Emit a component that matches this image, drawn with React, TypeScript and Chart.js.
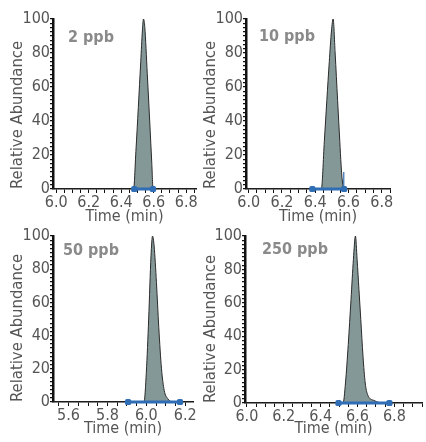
import React, { useEffect, useRef } from "react";
import { Chart, registerables } from "chart.js";

Chart.register(...registerables);

const FONT = '"Liberation Sans Narrow", "DejaVu Sans Condensed", "Roboto Condensed", sans-serif';

// ---- data ----
const panelLabels = ["2 ppb", "10 ppb", "50 ppb", "250 ppb"];

const time2ppb = [5.98, 6.4, 6.476, 6.49, 6.505, 6.52, 6.53, 6.537, 6.545, 6.56, 6.575, 6.588, 6.596, 6.7, 6.86];
const abund2ppb = [0, 0, 0, 22, 48, 75, 93, 100, 95, 68, 40, 15, 0, 0, 0];
const integ2ppb = [6.48, 6.595];

const time10ppb = [5.984, 6.4, 6.437, 6.455, 6.47, 6.485, 6.498, 6.508, 6.52, 6.535, 6.548, 6.556, 6.562, 6.574, 6.7, 6.85];
const abund10ppb = [0, 0, 0, 28, 52, 75, 93, 100, 80, 52, 28, 14, 6, 0, 0, 0];
const integ10ppb = [6.383, 6.574];
const mark10ppb = [6.572, 10];

const time50ppb = [5.52, 5.95, 5.988, 6.0, 6.012, 6.024, 6.032, 6.04, 6.052, 6.064, 6.078, 6.092, 6.11, 6.14, 6.24];
const abund50ppb = [0, 0, 0, 18, 50, 88, 100, 94, 72, 45, 20, 7, 2, 0, 0];
const integ50ppb = [5.906, 6.173];

const time250ppb = [5.99, 6.45, 6.522, 6.535, 6.55, 6.565, 6.578, 6.589, 6.598, 6.608, 6.618, 6.63, 6.642, 6.655, 6.69, 6.74, 6.95];
const abund250ppb = [0, 0, 0, 12, 35, 62, 86, 100, 86, 68, 50, 28, 12, 5, 1.5, 0, 0];
const integ250ppb = [6.497, 6.773];

const xTickLabelsA = [6.0, 6.2, 6.4, 6.6, 6.8];
const xTickLabelsB = [5.6, 5.8, 6.0, 6.2];
const yTickLabels = [0, 20, 40, 60, 80, 100];

const xRange2ppb = [5.98, 6.86];
const xRange10ppb = [5.984, 6.85];
const xRange50ppb = [5.52, 6.24];
const xRange250ppb = [5.99, 6.95];

// ---- layout ----
type Box = { left: number; top: number; width: number; height: number };
type Area = { l: number; t: number; r: number; b: number };
type PanelCfg = {
  label: string;
  time: number[];
  abund: number[];
  integ: number[];
  mark?: number[];
  xRange: number[];
  xLabels: number[];
  box: Box;
  area: Area;
  yTitleX: number;
  labelDx: number;
  labelDy: number;
};

const panels: PanelCfg[] = [
  {
    label: panelLabels[0], time: time2ppb, abund: abund2ppb, integ: integ2ppb,
    xRange: xRange2ppb, xLabels: xTickLabelsA,
    box: { left: 0, top: 0, width: 200, height: 226 },
    area: { l: 53, t: 19, r: 196, b: 189 }, yTitleX: 18, labelDx: 15, labelDy: 23,
  },
  {
    label: panelLabels[1], time: time10ppb, abund: abund10ppb, integ: integ10ppb, mark: mark10ppb,
    xRange: xRange10ppb, xLabels: xTickLabelsA,
    box: { left: 192, top: 0, width: 234, height: 226 },
    area: { l: 246, t: 19, r: 390, b: 189 }, yTitleX: 211, labelDx: 13, labelDy: 22,
  },
  {
    label: panelLabels[2], time: time50ppb, abund: abund50ppb, integ: integ50ppb,
    xRange: xRange50ppb, xLabels: xTickLabelsB,
    box: { left: 0, top: 221, width: 200, height: 217 },
    area: { l: 53, t: 236, r: 193, b: 402 }, yTitleX: 18, labelDx: 10, labelDy: 19,
  },
  {
    label: panelLabels[3], time: time250ppb, abund: abund250ppb, integ: integ250ppb,
    xRange: xRange250ppb, xLabels: xTickLabelsA,
    box: { left: 192, top: 221, width: 234, height: 217 },
    area: { l: 245, t: 236, r: 426, b: 403 }, yTitleX: 211, labelDx: 17, labelDy: 18,
  },
];

const TICK_FONT = 16;
const TITLE_FONT = 16;
const YTITLE_FONT = 16.5;
const TEXT_COLOR = "#555555";
const AXIS_COLOR = "#111111";
const FILL_COLOR = "#849898";
const EDGE_COLOR = "#2a2a2a";
const BLUE = "#2f6db5";

function makeTicks(min: number, max: number, step: number) {
  const out: { value: number }[] = [];
  const start = Math.ceil((min - 1e-9) / step) * step;
  for (let v = start; v <= max + 1e-9; v += step) out.push({ value: +v.toFixed(4) });
  return out;
}

function PanelChart({ cfg }: { cfg: PanelCfg }) {
  const ref = useRef<HTMLCanvasElement | null>(null);
  useEffect(() => {
    if (!ref.current) return;
    const { box, area } = cfg;
    const yWidth = area.l - box.left;
    const xHeight = box.top + box.height - area.b;
    const lh = YTITLE_FONT * 1.2;
    const yTitlePad = cfg.yTitleX - box.left - lh / 2;

    const labelPlugin = {
      id: "ppbLabel",
      afterDraw(chart: any) {
        const ctx = chart.ctx;
        const ca = chart.chartArea;
        ctx.save();
        ctx.font = `bold 16px ${FONT}`;
        ctx.fillStyle = "#8a8a8a";
        ctx.textBaseline = "alphabetic";
        ctx.textAlign = "left";
        ctx.fillText(cfg.label, ca.left + cfg.labelDx, ca.top + cfg.labelDy);
        ctx.restore();
      },
    };

    const datasets: any[] = [
      {
        data: cfg.time.map((t, i) => ({ x: t, y: cfg.abund[i] })),
        borderColor: EDGE_COLOR,
        borderWidth: 1,
        backgroundColor: FILL_COLOR,
        fill: "origin",
        pointRadius: 0,
        cubicInterpolationMode: "monotone",
        order: 2,
      },
      {
        data: cfg.integ.map((t) => ({ x: t, y: 0 })),
        borderColor: BLUE,
        borderWidth: 3,
        backgroundColor: BLUE,
        pointRadius: 3.6,
        pointStyle: "rectRounded",
        pointBorderWidth: 0,
        fill: false,
        clip: false,
        order: 1,
      },
    ];
    if (cfg.mark) {
      datasets.push({
        data: [{ x: cfg.mark[0], y: 0 }, { x: cfg.mark[0], y: cfg.mark[1] }],
        borderColor: BLUE,
        borderWidth: 1.2,
        pointRadius: 0,
        fill: false,
        clip: false,
        order: 0,
      });
    }

    const chart = new Chart(ref.current, {
      type: "line",
      data: { datasets },
      options: {
        animation: false,
        responsive: false,
        layout: {
          padding: { left: 0, top: area.t - box.top, right: box.left + box.width - area.r, bottom: 0 },
        },
        plugins: { legend: { display: false }, tooltip: { enabled: false } },
        scales: {
          x: {
            type: "linear",
            min: cfg.xRange[0],
            max: cfg.xRange[1],
            afterBuildTicks: (axis: any) => {
              axis.ticks = makeTicks(cfg.xRange[0], cfg.xRange[1], 0.05);
            },
            afterFit: (s: any) => {
              s.height = xHeight;
            },
            ticks: {
              autoSkip: false,
              maxRotation: 0,
              padding: 0,
              color: TEXT_COLOR,
              font: { family: FONT, size: TICK_FONT },
              callback: (v: any) =>
                cfg.xLabels.some((l) => Math.abs(l - Number(v)) < 1e-6) ? Number(v).toFixed(1) : "",
            },
            grid: { drawOnChartArea: false, drawTicks: true, tickLength: 4, color: AXIS_COLOR, lineWidth: 1 },
            border: { display: true, color: AXIS_COLOR, width: 1.5 },
            title: {
              display: true,
              text: "Time (min)",
              color: TEXT_COLOR,
              font: { family: FONT, size: TITLE_FONT, lineHeight: 1.2 },
              padding: 0,
            },
          },
          y: {
            type: "linear",
            min: 0,
            max: 100,
            afterBuildTicks: (axis: any) => {
              axis.ticks = makeTicks(0, 100, 2.5);
            },
            afterFit: (s: any) => {
              s.width = yWidth;
            },
            ticks: {
              autoSkip: false,
              padding: 0,
              color: TEXT_COLOR,
              font: { family: FONT, size: TICK_FONT },
              callback: (v: any) => {
                const n = Number(v);
                return yTickLabels.some((l) => Math.abs(l - n) < 1e-6) ? String(Math.round(n)) : "";
              },
            },
            grid: { drawOnChartArea: false, drawTicks: true, tickLength: 3, color: AXIS_COLOR, lineWidth: 1.2 },
            border: { display: true, color: AXIS_COLOR, width: 2.5 },
            title: {
              display: true,
              align: "start",
              text: "Relative Abundance",
              color: TEXT_COLOR,
              font: { family: FONT, size: YTITLE_FONT, lineHeight: 1.2 },
              padding: { top: yTitlePad, bottom: 0 },
            },
          },
        },
      },
      plugins: [labelPlugin],
    } as any);
    return () => chart.destroy();
  }, [cfg]);

  return (
    <canvas
      ref={ref}
      width={cfg.box.width}
      height={cfg.box.height}
      style={{
        position: "absolute",
        left: cfg.box.left,
        top: cfg.box.top,
        width: cfg.box.width,
        height: cfg.box.height,
        display: "block",
      }}
    />
  );
}

export default function App() {
  return (
    <div
      style={{
        position: "fixed",
        left: 0,
        top: 0,
        width: 426,
        height: 442,
        background: "#ffffff",
        overflow: "hidden",
      }}
    >
      {panels.map((p, i) => (
        <PanelChart key={i} cfg={p} />
      ))}
    </div>
  );
}
